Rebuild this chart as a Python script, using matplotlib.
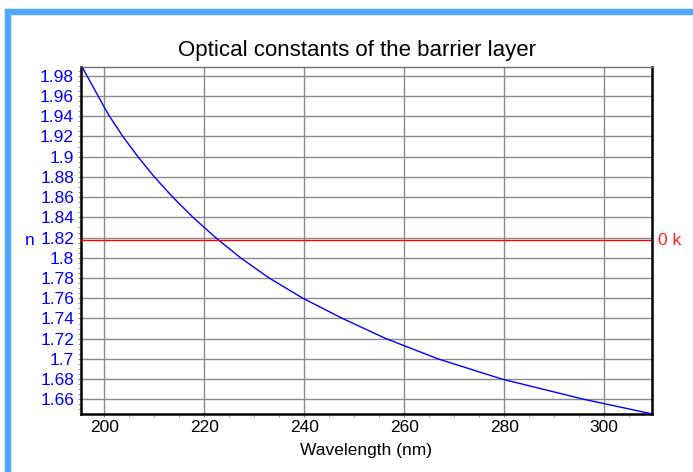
import matplotlib
matplotlib.use("Agg")
import matplotlib.pyplot as plt
from matplotlib.patches import Rectangle
from matplotlib.ticker import MultipleLocator, FuncFormatter

plt.rcParams['font.family'] = ['Liberation Sans', 'DejaVu Sans']

# Data (refractive index n vs wavelength)
wavelength = [195.6, 200.0, 201.05, 203.73, 206.73, 210.03, 213.70, 217.77, 222.27,
              227.27, 233.0, 239.73, 247.67, 256.4, 266.8, 279.6, 296.0, 309.6]
n_values = [1.9885, 1.949, 1.94, 1.92, 1.90, 1.88, 1.86, 1.84, 1.82,
            1.80, 1.78, 1.76, 1.74, 1.72, 1.70, 1.68, 1.66, 1.6456]
k_zero_n = 1.8175  # n-level where k = 0 is drawn
x_ticks = [200, 220, 240, 260, 280, 300]
y_ticks = [1.66, 1.68, 1.70, 1.72, 1.74, 1.76, 1.78, 1.80, 1.82, 1.84, 1.86,
           1.88, 1.90, 1.92, 1.94, 1.96, 1.98]
title = "Optical constants of the barrier layer"
xlabel = "Wavelength (nm)"

W, H = 693, 472
fig = plt.figure(figsize=(W / 100, H / 100), dpi=100)

# light blue frame (top and left)
frame_col = "#4DA6FF"
fig.patches.append(Rectangle((5 / W, 0), 5 / W, (H - 9) / H, transform=fig.transFigure,
                             color=frame_col, zorder=0))
fig.patches.append(Rectangle((5 / W, (H - 14) / H), (W - 5) / W, 5 / H,
                             transform=fig.transFigure, color=frame_col, zorder=0))

left, right, top, bottom = 81, 652, 66.7, 414
ax = fig.add_axes([left / W, 1 - bottom / H, (right - left) / W, (bottom - top) / H])

ax.plot(wavelength, n_values, color="#0000FF", lw=1.0, zorder=3)
ax.axhline(k_zero_n, color="#FF0000", lw=1.0, zorder=3)

ax.set_xlim(195.35, 309.6)
ax.set_ylim(1.6455, 1.989)

ax.set_xticks(x_ticks)
ax.set_yticks(y_ticks)
ax.xaxis.set_minor_locator(MultipleLocator(5))
ax.yaxis.set_minor_locator(MultipleLocator(0.005))


def fmt(v, p):
    s = f"{v:.2f}"
    if s.endswith("0"):
        s = s.rstrip("0").rstrip(".")
    return s


ax.yaxis.set_major_formatter(FuncFormatter(fmt))

ax.grid(True, which="major", color="#8a8a8a", lw=1.0)
ax.set_axisbelow(True)

ax.tick_params(axis="x", which="major", length=2, color="#8a8a8a", labelsize=12.5,
               pad=2, labelcolor="black")
ax.tick_params(axis="x", which="minor", length=2, color="#8a8a8a")
ax.tick_params(axis="y", which="major", length=2, color="#8a8a8a", labelsize=12.5,
               pad=3, labelcolor="#0000FF")
ax.tick_params(axis="y", which="minor", length=2, color="#8a8a8a")

for s in ("left", "bottom", "right"):
    ax.spines[s].set_color("black")
    ax.spines[s].set_linewidth(1.8)
ax.spines["top"].set_color("#707070")
ax.spines["top"].set_linewidth(1.0)

ax.set_title(title, fontsize=16, pad=7.5, x=0.484)
ax.set_xlabel(xlabel, fontsize=12.5, labelpad=6)

# axis labels n / k
ax.text(-0.0806, k_zero_n, "n", transform=ax.get_yaxis_transform(), color="#0000FF",
        fontsize=12.5, ha="right", va="center")
ax.text(1.0105, k_zero_n, "0 k", transform=ax.get_yaxis_transform(), color="#FF2020",
        fontsize=12.5, ha="left", va="center")

fig.savefig("out.png", dpi=100, facecolor="white")
